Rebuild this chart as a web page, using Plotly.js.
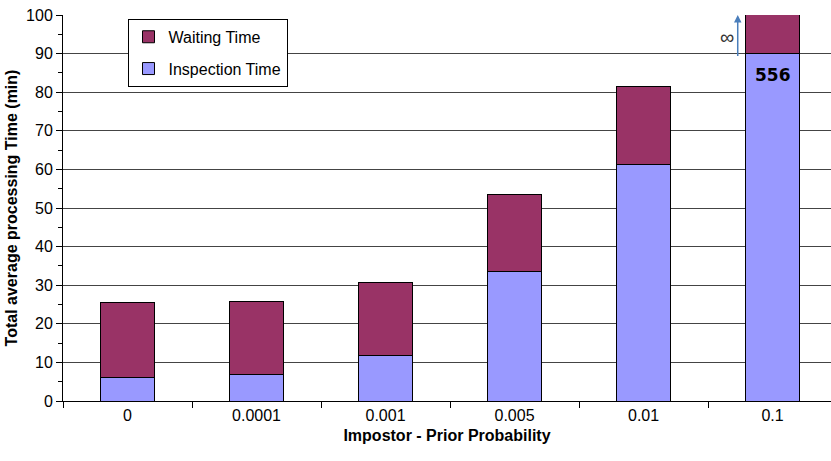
<!DOCTYPE html>
<html>
<head>
<meta charset="utf-8">
<script src="https://cdn.plot.ly/plotly-3.0.1.min.js"></script>
<style>html,body{margin:0;padding:0;background:#fff;}#chart{width:831px;height:461px;}</style>
</head>
<body>
<div id="chart"></div>
<script>
const categories = ["0", "0.0001", "0.001", "0.005", "0.01", "0.1"];
const inspectionTime = [6.2, 6.9, 11.9, 33.5, 61.3, 90];
const waitingTime = [19.2, 18.8, 18.8, 19.9, 20.1, 30];
const lastInspectionLabel = "556";
const infinityLabel = "∞";

const font = "Liberation Sans, Arial, sans-serif";

const traces = [
  {
    type: "bar", name: "Inspection Time", x: categories, y: inspectionTime,
    legendgroup: "insp", legendrank: 2,
    marker: {color: "#9999FF", line: {color: "#000", width: 1}},
    width: 0.42, hoverinfo: "skip"
  },
  {
    type: "bar", name: "Waiting Time", x: categories, y: waitingTime,
    legendgroup: "wait", legendrank: 1,
    marker: {color: "#993366", line: {color: "#000", width: 1}},
    width: 0.42, hoverinfo: "skip"
  }
];

const layout = {
  width: 831, height: 461,
  margin: {l: 63, r: 0, t: 15, b: 60},
  paper_bgcolor: "#fff", plot_bgcolor: "#fff",
  barmode: "stack",
  showlegend: true,
  font: {family: font, size: 16, color: "#000"},
  legend: {
    x: 0.084, y: 0.99, xanchor: "left", yanchor: "top",
    bgcolor: "#fff", bordercolor: "#000", borderwidth: 1,
    traceorder: "grouped", font: {size: 16, family: font},
    itemwidth: 30, tracegroupgap: 8
  },
  xaxis: {
    type: "category",
    range: [-0.5, 5.453],
    showline: true, linecolor: "#000", linewidth: 1,
    ticks: "outside", tickson: "boundaries", ticklen: 6, tickcolor: "#000",
    showgrid: false, zeroline: false,
    tickfont: {size: 16, family: font},
    title: {text: "<b>Impostor - Prior Probability</b>", font: {size: 16, family: font}, standoff: 6}
  },
  yaxis: {
    range: [0, 100], dtick: 10,
    showline: true, linecolor: "#000", linewidth: 1,
    ticks: "outside", ticklen: 6, tickcolor: "#000",
    minor: {dtick: 5, ticks: "outside", ticklen: 4, tickcolor: "#000", showgrid: false},
    showgrid: true, gridcolor: "#444", gridwidth: 1, zeroline: false,
    tickfont: {size: 16, family: font},
    title: {text: "<b>Total average processing Time (min)</b>", font: {size: 16, family: font}, standoff: 4}
  },
  annotations: [
    {
      x: 5, y: 84.5, xref: "x", yref: "y", text: "<b>" + lastInspectionLabel + "</b>",
      showarrow: false, font: {size: 17, family: "DejaVu Sans, Arial", color: "#000"}
    },
    {
      x: 4.65, y: 94.3, xref: "x", yref: "y", text: infinityLabel,
      showarrow: false, font: {size: 20, family: font, color: "#333"}
    },
    {
      x: 4.73, y: 100, ax: 4.73, ay: 89, xref: "x", yref: "y", axref: "x", ayref: "y",
      text: "", showarrow: true, arrowhead: 2, arrowsize: 1, arrowwidth: 1.5, arrowcolor: "#4A7EBB"
    }
  ]
};

Plotly.newPlot("chart", traces, layout, {displayModeBar: false, staticPlot: true});
</script>
</body>
</html>
